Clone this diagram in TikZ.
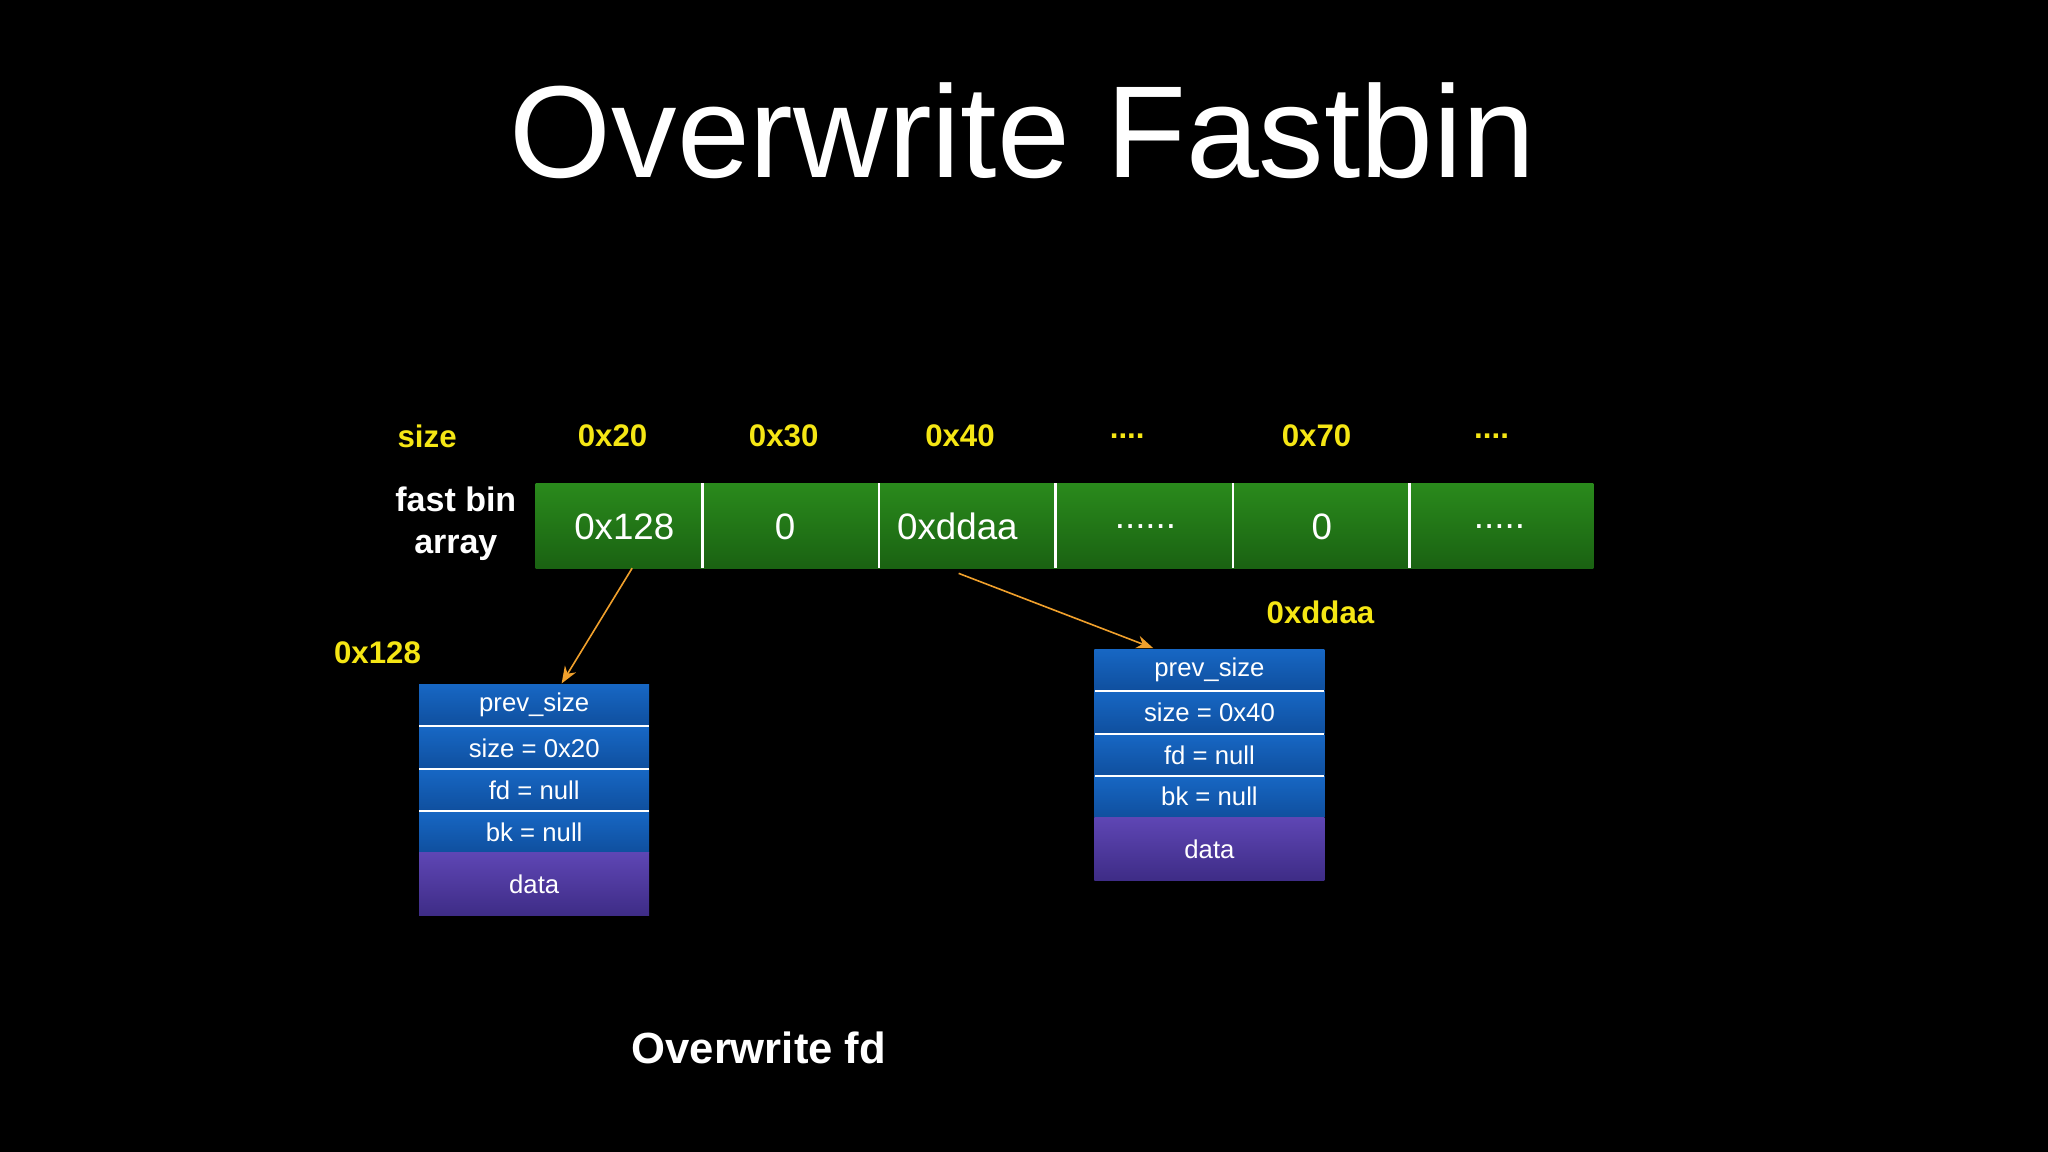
\documentclass[tikz,border=0pt]{standalone}
\usepackage{fontspec}
\setmainfont{Liberation Sans}
\usetikzlibrary{arrows.meta}
\definecolor{ylw}{HTML}{F5E614}
\definecolor{grn}{HTML}{2A8A1C}
\definecolor{grnd}{HTML}{1A6212}
\definecolor{blu}{HTML}{1767C4}
\definecolor{blud}{HTML}{0F4F9E}
\definecolor{pur}{HTML}{5E46B4}
\definecolor{purd}{HTML}{3E2C86}
\definecolor{org}{HTML}{F0A02C}
\tikzset{
  lbl/.style={text=ylw,font=\bfseries\fontsize{6.8}{8}\selectfont},
  cell/.style={text=white,font=\fontsize{8}{9}\selectfont},
  row/.style={top color=blu,bottom color=blud,draw=none,text=white,font=\fontsize{5.6}{7}\selectfont},
  datab/.style={top color=pur,bottom color=purd,draw=none,text=white,font=\fontsize{5.6}{7}\selectfont},
  arr/.style={draw=org,line width=0.35pt,-{Stealth[length=1.3mm,width=1mm]}}
}
\begin{document}
\begin{tikzpicture}[x=0.01cm,y=-0.01cm]
\fill[black] (0,0) rectangle (1568,882);
\useasboundingbox (0,0) rectangle (1568,882);
\node[text=white,font=\fontsize{28.5}{30}\selectfont] (title) at (783,100) {Overwrite Fastbin};
% header labels
\node[lbl] (hs) at (327,334) {size};
\node[lbl] (h1) at (469,334) {0x20};
\node[lbl] (h2) at (600,334) {0x30};
\node[lbl] (h3) at (735,334) {0x40};
\node[lbl] (h4) at (863,334) {....};
\node[lbl] (h5) at (1008,334) {0x70};
\node[lbl] (h6) at (1142,334) {....};
\node[text=white,font=\bfseries\fontsize{7.4}{9.2}\selectfont,align=center] (fba) at (349,401) {fast bin\\array};
% array
\shade[top color=grn,bottom color=grnd] (410,370) rectangle (1220,435);
\foreach \x in {538,673,808,944,1079} \draw[white,line width=0.6pt] (\x,370) -- (\x,435);
\node[cell] (c1) at (478,403) {0x128};
\node[cell] (c2) at (601,403) {0};
\node[cell] (c3) at (733,403) {0xddaa};
\node[cell] (c4) at (877,403) {......};
\node[cell] (c5) at (1012,403) {0};
\node[cell] (c6) at (1148,403) {.....};
\coordinate (a1s) at (484,435);
\coordinate (a2s) at (734,439);
% left chunk
\node[lbl] (l128) at (289,500) {0x128};
\node[row,minimum width=1.76cm,minimum height=0.32cm,inner sep=0] (lp) at (409,540) {prev\_size};
\node[row,minimum width=1.76cm,minimum height=0.32cm,inner sep=0] (ls) at (409,573) {size = 0x20};
\node[row,minimum width=1.76cm,minimum height=0.32cm,inner sep=0] (lf) at (409,605) {fd = null};
\node[row,minimum width=1.76cm,minimum height=0.32cm,inner sep=0] (lb) at (409,637) {bk = null};
\node[datab,minimum width=1.76cm,minimum height=0.48cm,inner sep=0] (ld) at (409,677) {data};
\foreach \y in {556,589,621} \draw[white,line width=0.5pt] (321,\y) -- (497,\y);
% right chunk
\node[lbl] (ldd) at (1011,469) {0xddaa};
\node[row,minimum width=1.76cm,minimum height=0.32cm,inner sep=0] (rp) at (926,513) {prev\_size};
\node[row,minimum width=1.76cm,minimum height=0.33cm,inner sep=0] (rs) at (926,545.5) {size = 0x40};
\node[row,minimum width=1.76cm,minimum height=0.32cm,inner sep=0] (rf) at (926,578) {fd = null};
\node[row,minimum width=1.76cm,minimum height=0.32cm,inner sep=0] (rb) at (926,610) {bk = null};
\node[datab,minimum width=1.76cm,minimum height=0.48cm,inner sep=0] (rd) at (926,650) {data};
\foreach \y in {529,562,594} \draw[white,line width=0.5pt] (838,\y) -- (1014,\y);
% arrows
\draw[arr] (a1s) -- (lp.north west -| 430,0);
\draw[arr] (a2s) -- (rp.north west -| 883,0);
\node[text=white,font=\bfseries\fontsize{9.5}{11}\selectfont] (ofd) at (581,802) {Overwrite fd};
\end{tikzpicture}
\end{document}
